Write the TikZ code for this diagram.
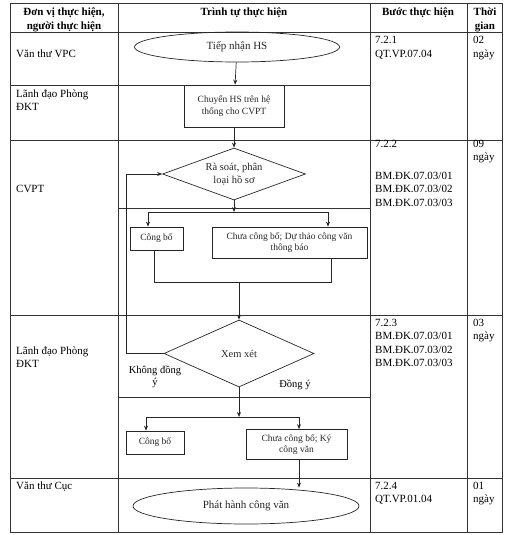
\documentclass[tikz,border=0pt]{standalone}
\usepackage{fontspec}
\setmainfont{Liberation Serif}
\usetikzlibrary{shapes.geometric,arrows.meta}

\begin{document}
\begin{tikzpicture}[x=1pt,y=-1pt,
  every node/.style={inner sep=0pt},
  grid/.style={line width=0.6pt,black!80},
  flow/.style={line width=0.7pt,black!85},
  arr/.style={flow,-{Stealth[length=5pt,width=4pt]}},
  box/.style={draw,flow,rectangle,font=\fontsize{9.5}{11.5}\selectfont,align=center},
  oval/.style={draw,flow,ellipse,font=\fontsize{11}{13}\selectfont},
  choice/.style={draw,flow,diamond,font=\fontsize{10.5}{12.5}\selectfont,align=center},
  cell/.style={anchor=base west,align=left,font=\fontsize{11}{13.5}\selectfont},
  head/.style={anchor=base,align=center,font=\bfseries\fontsize{11}{13.5}\selectfont}]
  \useasboundingbox (0,0) rectangle (508,535);

  % table
  \draw[grid] (10,3) rectangle (502,532);
  \draw[grid] (118,3) -- (118,532);
  \draw[grid] (370,3) -- (370,532);
  \draw[grid] (467,3) -- (467,532);
  \draw[grid] (10,32) -- (502,32);
  \draw[grid] (10,85) -- (370,85);
  \draw[grid] (10,140) -- (502,140);
  \draw[grid] (118,208) -- (370,208);
  \draw[grid] (10,315) -- (502,315);
  \draw[grid] (118,397) -- (370,397);
  \draw[grid] (10,478) -- (502,478);

  % multi-line cells sit on the baseline of their last line
  \node[head] (h1) at (64,29.5) {Đơn vị thực hiện,\\người thực hiện};
  \node[head] (h2) at (244,16) {Trình tự thực hiện};
  \node[head] (h3) at (418,16) {Bước thực hiện};
  \node[head] (h4) at (485,29.5) {Thời\\gian};

  \node[cell] (vt1) at (16,57) {Văn thư VPC};
  \node[cell] (ld1) at (16,110.5) {Lãnh đạo Phòng\\ĐKT};
  \node[cell] (cv) at (16,192) {CVPT};
  \node[cell] (ld2) at (16,367.5) {Lãnh đạo Phòng\\ĐKT};
  \node[cell] (vt2) at (16,489) {Văn thư Cục};

  \node[cell] (b1) at (375,57.5) {7.2.1\\QT.VP.07.04};
  \node[cell] (b2) at (375,147) {7.2.2};
  \node[cell] (b2m) at (375,206) {BM.ĐK.07.03/01\\BM.ĐK.07.03/02\\BM.ĐK.07.03/03};
  \node[cell] (b3) at (375,366.5) {7.2.3\\BM.ĐK.07.03/01\\BM.ĐK.07.03/02\\BM.ĐK.07.03/03};
  \node[cell] (b4) at (375,502.5) {7.2.4\\QT.VP.01.04};

  \node[cell] (t1) at (473,57.5) {02\\ngày};
  \node[cell] (t2) at (473,160.5) {09\\ngày};
  \node[cell] (t3) at (473,339.5) {03\\ngày};
  \node[cell] (t4) at (473,502.5) {01\\ngày};

  % flow
  \node[oval,minimum width=205,minimum height=30] (nhan) at (237,47) {Tiếp nhận HS};
  \node[box,minimum width=100,minimum height=42] (chuyen) at (234,106) {Chuyển HS trên hệ\\thống cho CVPT};
  \node[choice,aspect=2.75,minimum width=143,minimum height=52] (rasoat) at (234,174) {Rà soát, phân\\loại hồ sơ};
  \node[box,minimum width=53,minimum height=23] (cb1) at (156.5,238.5) {Công bố};
  \node[box,minimum width=155,minimum height=31] (duthao) at (289.5,242.5) {Chưa công bố; Dự thảo công văn\\thông báo};
  \node[choice,aspect=2.24,minimum width=150,minimum height=67] (xemxet) at (239,353.5) {Xem xét};
  \node[box,minimum width=58,minimum height=23] (cb2) at (155,442.5) {Công bố};
  \node[box,minimum width=101,minimum height=30] (ky) at (296.5,444.5) {Chưa công bố; Ký\\công văn};
  \node[oval,minimum width=226,minimum height=36] (phathanh) at (246,506) {Phát hành công văn};

  \node[align=center,font=\fontsize{10.5}{12.5}\selectfont] (khong) at (155,377) {Không đồng\\ý};
  \node[font=\fontsize{10.5}{12.5}\selectfont] (dongy) at (295,385) {Đồng ý};

  \coordinate (tach1) at (234,212);
  \coordinate (t1l) at (148,212);
  \coordinate (t1r) at (328,212);
  \coordinate (g1l) at (154,282);
  \coordinate (g1r) at (331,282);
  \coordinate (vong) at (126,0);
  \coordinate (t2l) at (146,417);
  \coordinate (t2r) at (299,417);

  \draw[arr] (nhan) -- (chuyen);
  \draw[arr] (chuyen) -- (rasoat);
  \draw[arr] (rasoat.south) -- (tach1);
  \draw[flow] (t1l) -- (t1r);
  \draw[arr] (t1l) -- (t1l |- cb1.north);
  \draw[arr] (t1r) -- (t1r |- duthao.north);
  \draw[flow] (g1l |- cb1.south) -- (g1l) -- (g1r) -- (g1r |- duthao.south);
  \draw[arr] (xemxet.north |- g1l) -- (xemxet.north);
  \draw[arr] (xemxet.west) -- (vong |- xemxet.west) -- (vong |- rasoat.west) -- (rasoat.west);
  \draw[arr] (xemxet.south) -- (xemxet.south |- t2l);
  \draw[flow] (t2l) -- (t2r);
  \draw[arr] (t2l) -- (t2l |- cb2.north);
  \draw[arr] (t2r) -- (t2r |- ky.north);
  \draw[arr] (ky.south -| t2r) -- (t2r |- phathanh.north);
\end{tikzpicture}
\end{document}
